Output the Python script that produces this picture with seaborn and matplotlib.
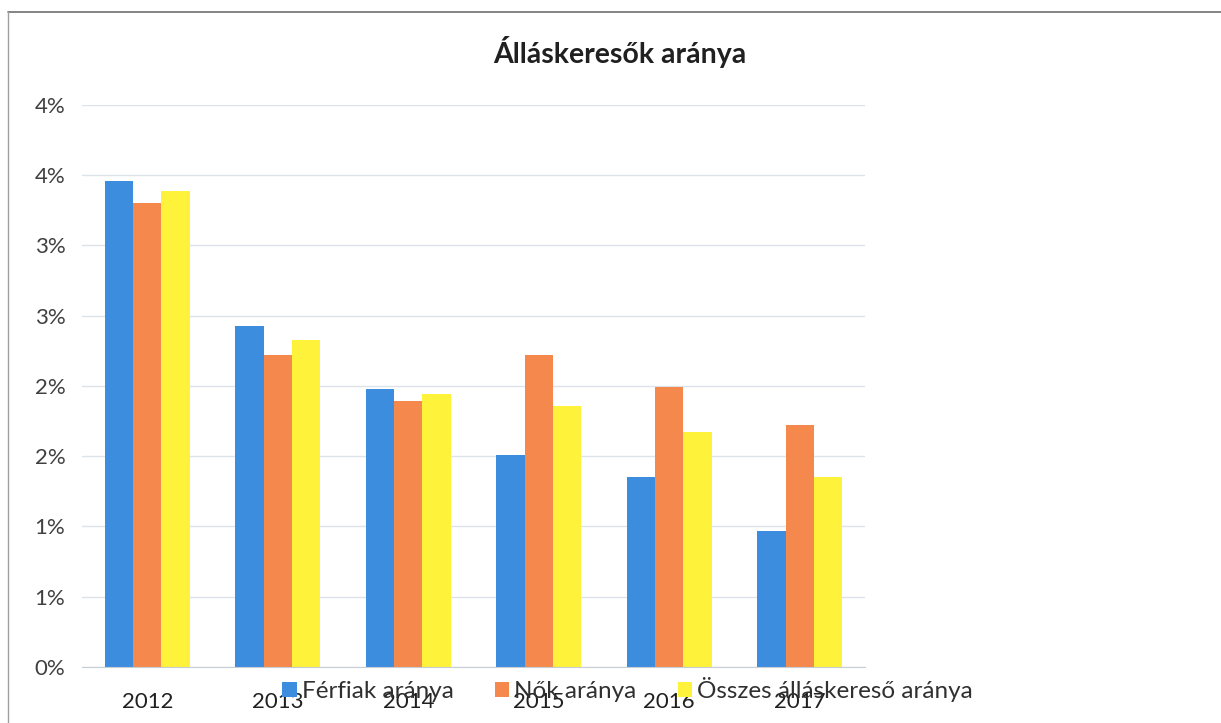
import pandas as pd
import matplotlib.pyplot as plt
import seaborn as sns
from matplotlib.lines import Line2D

# Data (percent)
years = ["2012", "2013", "2014", "2015", "2016", "2017"]
ferfiak = [3.46, 2.43, 1.98, 1.51, 1.35, 0.97]
nok = [3.30, 2.22, 1.89, 2.22, 1.99, 1.72]
osszes = [3.39, 2.33, 1.94, 1.86, 1.67, 1.35]
series_names = ["Férfiak aránya", "Nők aránya", "Összes álláskereső aránya"]
y_ticks = [0, 0.5, 1.0, 1.5, 2.0, 2.5, 3.0, 3.5, 4.0]
y_tick_labels = ["0%", "1%", "1%", "2%", "2%", "3%", "3%", "4%", "4%"]

df = pd.DataFrame({
    "Év": years * 3,
    "Érték": ferfiak + nok + osszes,
    "Sorozat": [series_names[0]] * 6 + [series_names[1]] * 6 + [series_names[2]] * 6,
})

sns.set_style("white")
plt.rcParams['font.family'] = ['Lato', 'DejaVu Sans']

fig = plt.figure(figsize=(12.21, 7.23), dpi=100)
ax = fig.add_axes([0.0672, 0.0775, 0.6412, 0.7773])

colors = ["#3d8ddf", "#f4884d", "#fff23a"]
sns.barplot(data=df, x="Év", y="Érték", hue="Sorozat", palette=colors,
            width=0.65, gap=0, saturation=1, linewidth=0, ax=ax)

ax.set_ylim(0, 4.0)
ax.set_xlim(-0.5, 5.5)
ax.set_yticks(y_ticks)
ax.set_yticklabels(y_tick_labels, fontsize=16, color="#404040")
ax.set_xticklabels(years, fontsize=16, color="#202020")
ax.set_xlabel("")
ax.set_ylabel("")
ax.yaxis.grid(True, color="#dde3ea", linewidth=1)
ax.set_axisbelow(True)
for s in ["top", "right", "left"]:
    ax.spines[s].set_visible(False)
ax.spines["bottom"].set_color("#c8cdd3")
ax.set_xticks([i - 0.5 for i in range(7)], minor=True)
ax.tick_params(axis="x", which="major", length=0, pad=18)
ax.tick_params(axis="x", which="minor", length=7, color="#c8cdd3", direction="out")
ax.tick_params(axis="y", length=0, pad=12)

fig.suptitle("Álláskeresők aránya", x=0.508, y=0.95, fontsize=20.5,
             fontweight="bold", color="#202020")

ax.legend_.remove()
handles, labels = ax.get_legend_handles_labels()
fig.legend(handles, labels, loc="center", bbox_to_anchor=(0.514, 0.046), ncol=3,
           frameon=False, fontsize=17.5, handlelength=0.6, handleheight=0.6,
           handletextpad=0.2, columnspacing=1.7, labelcolor="#303030")

# scanned frame edges
fig.add_artist(Line2D([0.0066, 1.0], [0.983, 0.983], color="#707070", linewidth=1.2))
fig.add_artist(Line2D([0.0066, 0.0066], [0.0, 0.983], color="#a0a0a0", linewidth=1))

plt.savefig("out.png", dpi=100)
